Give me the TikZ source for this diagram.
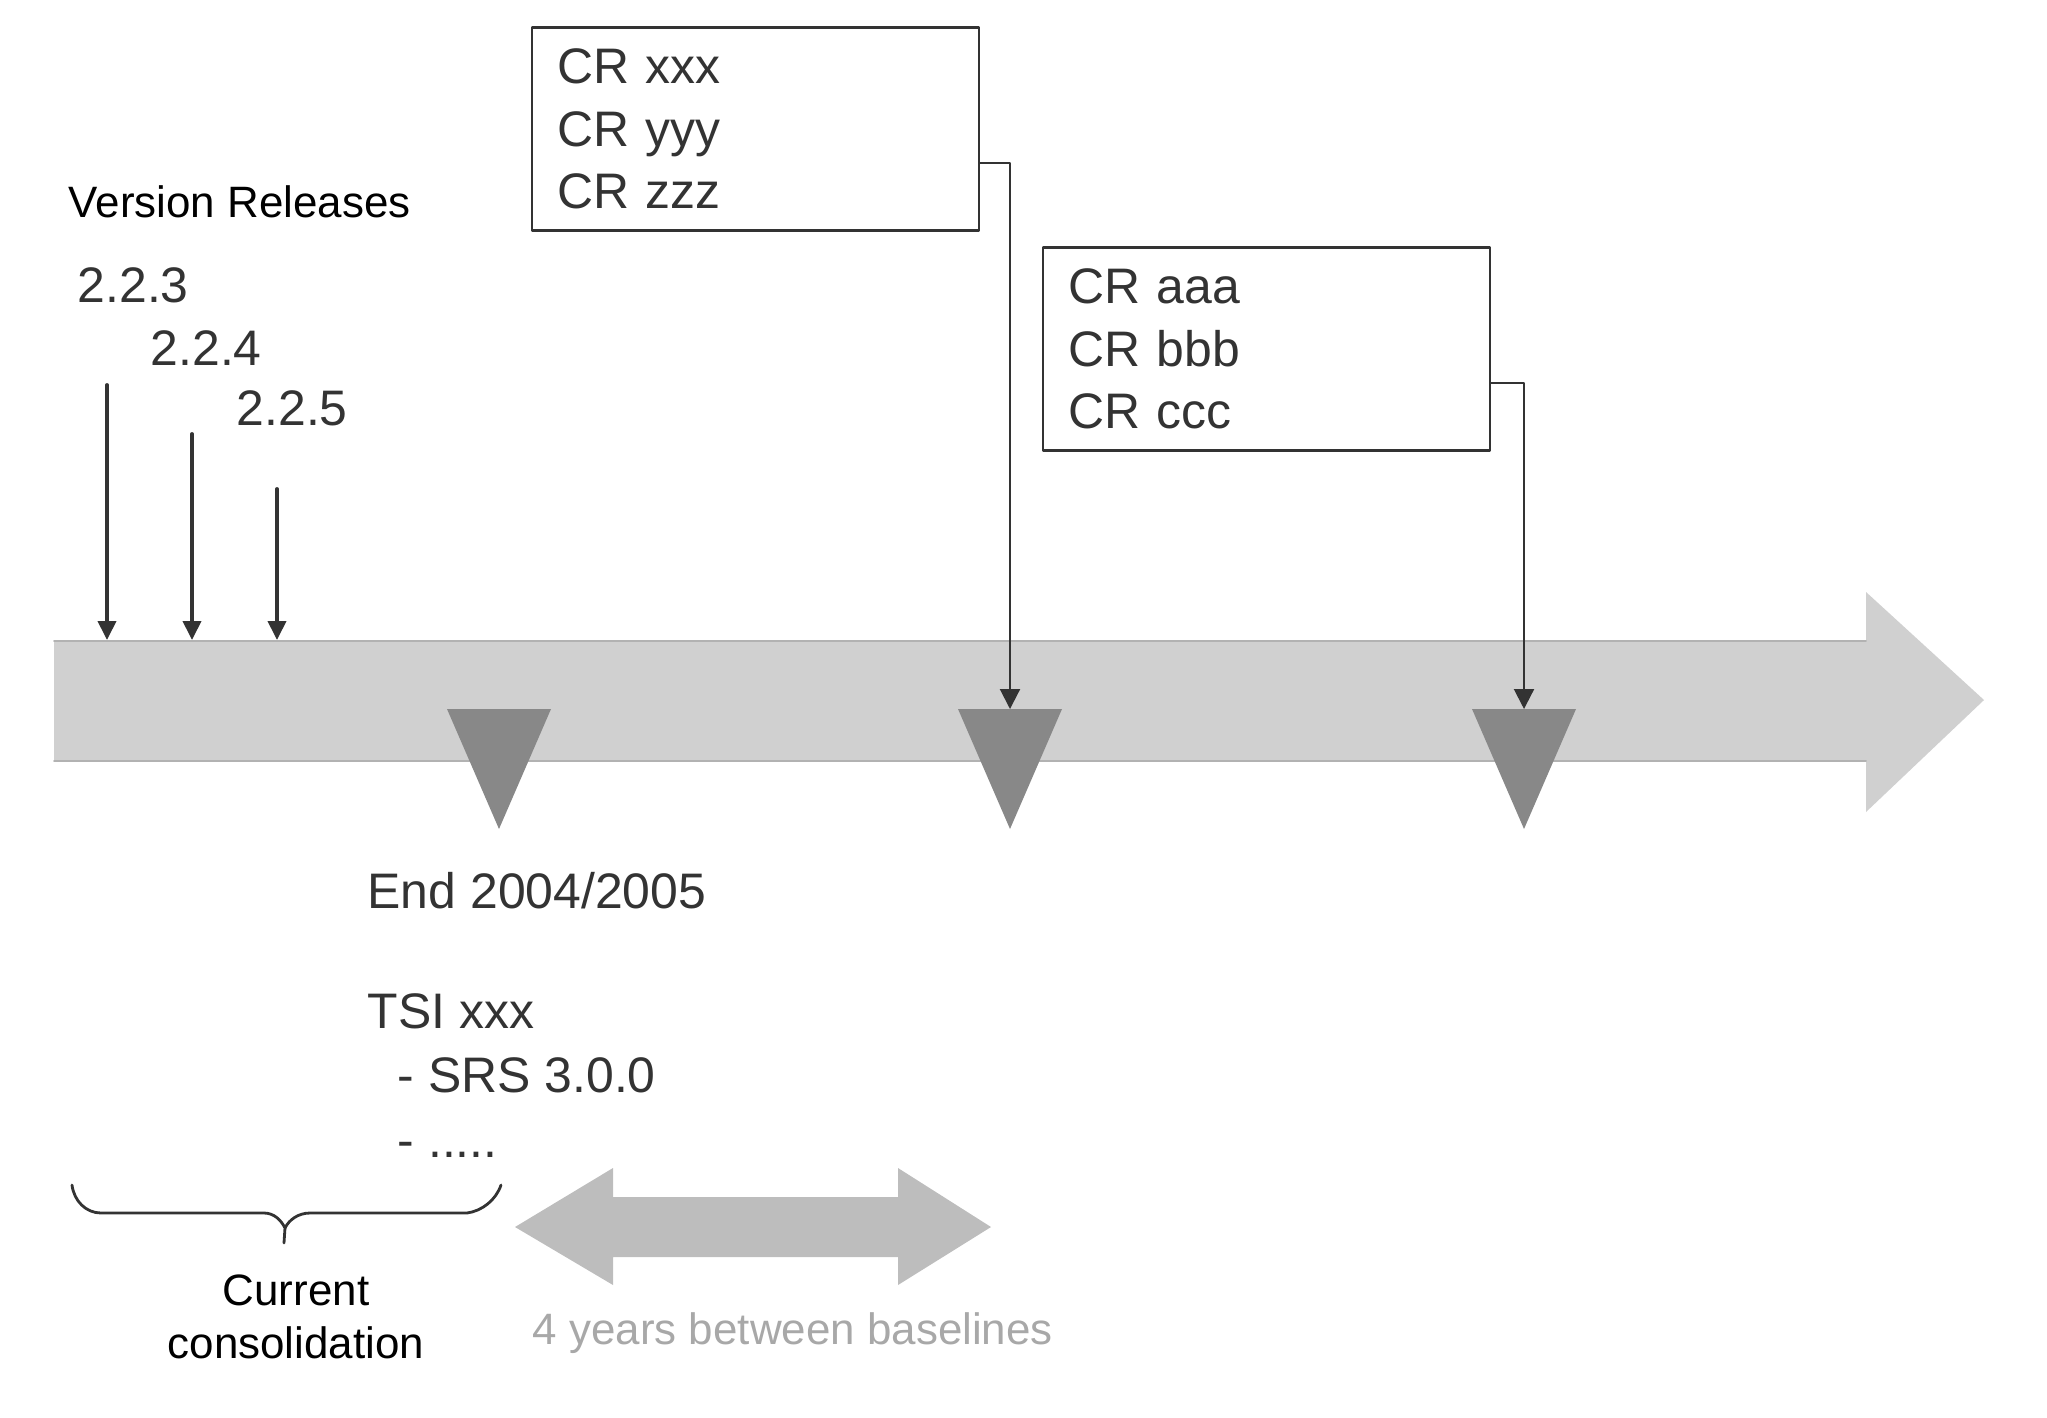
\documentclass[tikz,border=0pt]{standalone}
\usepackage{fontspec}
\setmainfont{Liberation Sans}
\usepackage{tikz}
\usetikzlibrary{arrows.meta,calc}
\usetikzlibrary{positioning}
\definecolor{txtgray}{HTML}{333333}
\definecolor{barfill}{HTML}{D0D0D0}
\definecolor{baredge}{HTML}{B2B2B2}
\definecolor{markfill}{HTML}{888888}
\definecolor{spanfill}{HTML}{BDBDBD}
\definecolor{notegray}{HTML}{A8A8A8}

\begin{document}
\begin{tikzpicture}[line cap=round,line join=round,
  lbl/.style={inner sep=0pt,anchor=base west,text=black,font=\fontsize{12.5}{15}\selectfont},
  big/.style={inner sep=0pt,anchor=base west,text=txtgray,font=\fontsize{14.2}{17.6}\selectfont},
  crbox/.style={draw=txtgray,line width=0.7pt,text=txtgray,font=\fontsize{14.2}{17.8}\selectfont,
    align=left,text width=3.97cm,inner xsep=0.25cm,inner ysep=0pt,minimum width=4.47cm,minimum height=2.03cm},
  relarrow/.style={draw=txtgray,line width=1.1pt,-{Triangle[length=0.19cm,width=0.18cm]}},
  crlink/.style={draw=txtgray,line width=0.6pt,-{Triangle[length=0.2cm,width=0.2cm]}},
  milestone/.style={fill=markfill},
  bracepen/.style={draw=txtgray,line width=0.8pt}]
\useasboundingbox (0,0) rectangle (20.47,-14.17);
% time line (big arrow)
\fill[barfill] (0.54,-6.41) -- (18.66,-6.41) -- (18.66,-5.92) -- (19.84,-7.00) -- (18.66,-8.12) -- (18.66,-7.61) -- (0.54,-7.61) -- cycle;
\draw[baredge,line width=0.5pt] (0.54,-6.41) -- (18.66,-6.41) (0.54,-7.61) -- (18.66,-7.61);
% baselines (milestones)
\foreach \n/\x in {m1/4.99,m2/10.10,m3/15.24} {
  \fill[milestone] ({\x-0.52},-7.09) -- ({\x+0.52},-7.09) -- (\x,-8.29) -- cycle;
  \coordinate (\n) at (\x,-7.09);
}
% version releases
\node[lbl] (vr) at (0.68,-2.17) {Version Releases};
\node[big] (v223) at (0.77,-3.02) {2.2.3};
\node[big] (v224) at (1.50,-3.65) {2.2.4};
\node[big] (v225) at (2.36,-4.25) {2.2.5};
\foreach \x/\y [count=\i] in {1.07/-3.85,1.92/-4.34,2.77/-4.89} {
  \coordinate (rs\i) at (\x,\y); \coordinate (re\i) at (\x,-6.40);
  \draw[relarrow] (rs\i) -- (re\i);
}
% change requests
\node[crbox] (crx) at (7.555,-1.29) {CR xxx\\CR yyy\\CR zzz};
\node[crbox] (cra) at (12.665,-3.49) {CR aaa\\CR bbb\\CR ccc};
\draw[crlink] ($(crx.east)+(0,-0.34)$) -| (m2);
\draw[crlink] ($(cra.east)+(0,-0.34)$) -| (m3);
% first baseline contents
\node[big] (end) at (3.67,-9.08) {End 2004/2005};
\node[big] (tsi) at (3.67,-10.28) {TSI xxx};
\node[big] (srs) at (3.97,-10.92) {- SRS 3.0.0};
\node[big] (etc) at (3.97,-11.57) {- .....};
% current consolidation brace
\draw[bracepen] (0.72,-11.85) .. controls (0.74,-12.01) and (0.86,-12.13) .. (1.01,-12.13) -- (2.64,-12.13)
  .. controls (2.74,-12.13) and (2.81,-12.20) .. (2.85,-12.28) -- (2.84,-12.43);
\draw[bracepen] (2.85,-12.28) .. controls (2.89,-12.20) and (2.98,-12.13) .. (3.10,-12.13) -- (4.67,-12.13)
  .. controls (4.82,-12.11) and (4.96,-12.00) .. (5.01,-11.85);
\node[lbl,anchor=base] (cur) at (2.96,-13.05) {Current};
\node[lbl,anchor=base] (cons) at (2.96,-13.58) {consolidation};
% 4 years span
\fill[spanfill] (5.15,-12.27) -- (6.13,-11.68) -- (6.13,-11.97) -- (8.98,-11.97) -- (8.98,-11.68) -- (9.91,-12.27)
  -- (8.98,-12.85) -- (8.98,-12.57) -- (6.13,-12.57) -- (6.13,-12.85) -- cycle;
\node[lbl,text=notegray] (span) at (5.32,-13.44) {4 years between baselines};
\end{tikzpicture}
\end{document}
